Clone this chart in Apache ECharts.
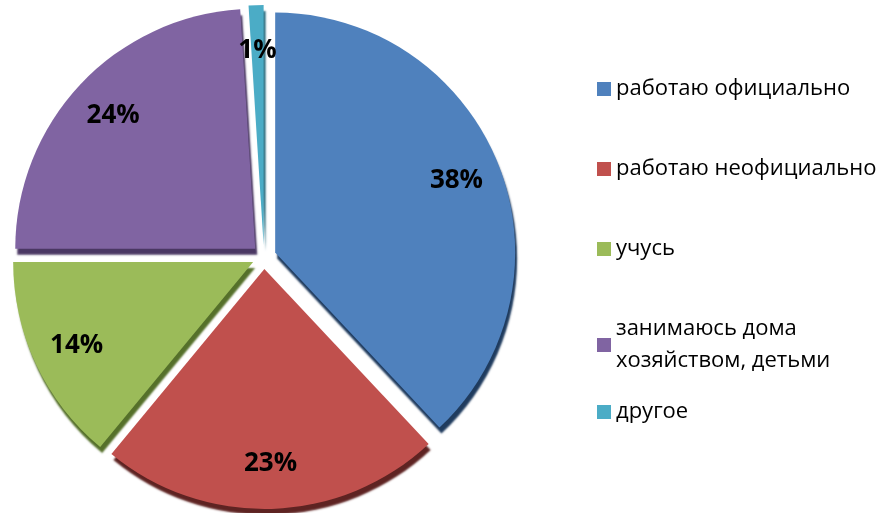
<!DOCTYPE html>
<html>
<head>
<meta charset="utf-8">
<script src="https://cdn.jsdelivr.net/npm/echarts@6/dist/echarts.min.js"></script>
<style>
html, body { margin: 0; padding: 0; background: #fff; }
#chart { width: 886px; height: 513px; }
</style>
</head>
<body>
<div id="chart"></div>
<script>
var categories = ['работаю официально', 'работаю неофициально', 'учусь', 'занимаюсь дома\nхозяйством, детьми', 'другое'];
var values = [38, 23, 14, 24, 1];
var colors = ['#4F81BD', '#C0504D', '#9BBB59', '#8064A2', '#4BACC6'];
var sideColors = ['#1F3B5E', '#5E2322', '#55702A', '#4A3763', '#2A6E80'];

var pieCenter = [264, 257];
var pieR = 240;

var chart = echarts.init(document.getElementById('chart'));

// main slices, every one pulled out a little
var slices = categories.map((c, i) => ({
	name: c,
	value: values[i],
	selected: true,
	itemStyle: {
		color: colors[i],
		shadowColor: sideColors[i],
		shadowOffsetY: 6,
		shadowOffsetX: 2,
		shadowBlur: 2
	}
}));

// invisible ring only for placing the percent labels near the rim
var labelSlices = categories.map((c, i) => ({
	name: c,
	value: values[i],
	selected: true
}));

var legendFont = { fontFamily: 'Open Sans', fontSize: 22, color: '#000', lineHeight: 32 };

var option = {
	animation: false,
	legend: [
		{
			orient: 'vertical',
			left: 592,
			top: 68,
			itemWidth: 14,
			itemHeight: 14,
			itemGap: 48,
			icon: 'rect',
			selectedMode: false,
			data: categories.slice(0, 4),
			textStyle: legendFont
		},
		{
			orient: 'vertical',
			left: 592,
			top: 391,
			itemWidth: 14,
			itemHeight: 14,
			icon: 'rect',
			selectedMode: false,
			data: categories.slice(4),
			textStyle: legendFont
		}
	],
	series: [
		{
			type: 'pie',
			center: pieCenter,
			radius: [0, pieR],
			startAngle: 90,
			clockwise: true,
			selectedMode: 'multiple',
			selectedOffset: 12,
			silent: true,
			label: { show: false },
			labelLine: { show: false },
			itemStyle: { borderWidth: 0 },
			data: slices
		},
		{
			type: 'pie',
			center: pieCenter,
			radius: [pieR * 0.6, pieR],
			startAngle: 90,
			clockwise: true,
			selectedMode: 'multiple',
			selectedOffset: 12,
			silent: true,
			legendHoverLink: false,
			itemStyle: { color: 'rgba(0,0,0,0)' },
			label: {
				show: true,
				position: 'inside',
				formatter: '{c}%',
				fontFamily: 'Open Sans',
				fontWeight: 'bold',
				fontSize: 26,
				color: '#000'
			},
			labelLine: { show: false },
			data: labelSlices
		}
	]
};

chart.setOption(option);
</script>
</body>
</html>
